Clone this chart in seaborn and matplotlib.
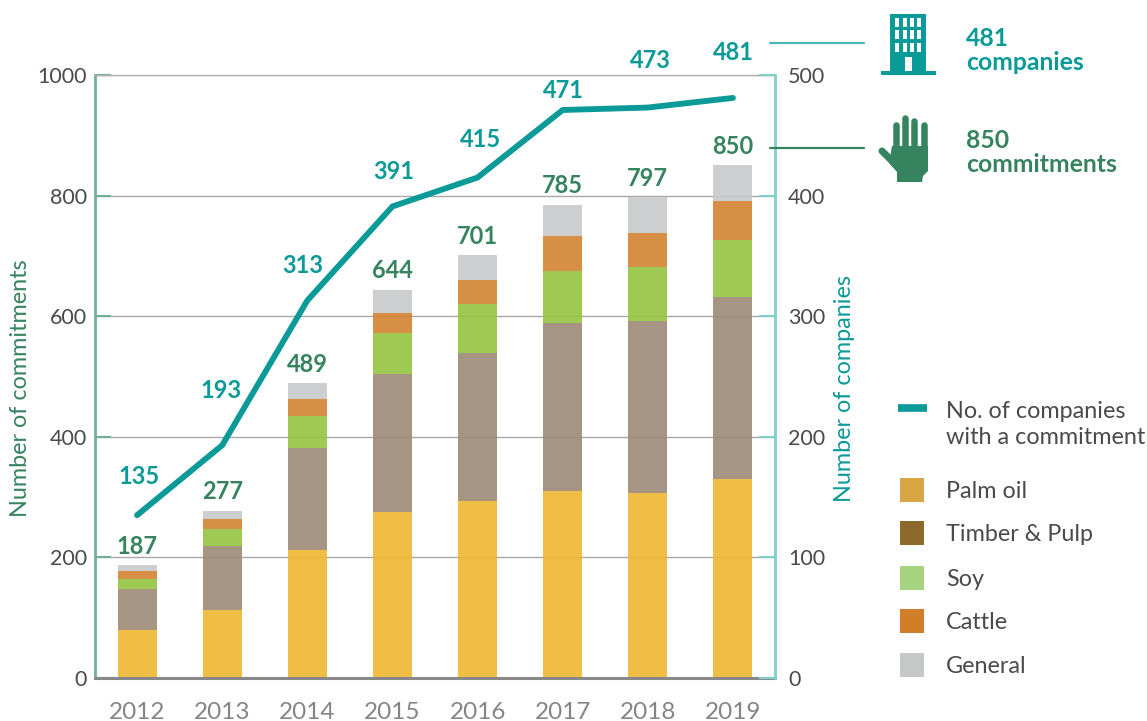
import pandas as pd
import matplotlib
matplotlib.use("Agg")
import matplotlib.pyplot as plt
from matplotlib.patches import Rectangle, Polygon
import seaborn as sns

# ============ Data ============
years = ["2012", "2013", "2014", "2015", "2016", "2017", "2018", "2019"]
palm_oil = [80, 113, 212, 275, 293, 310, 307, 330]
timber_pulp = [68, 106, 169, 229, 246, 279, 285, 302]
soy = [16, 28, 53, 68, 81, 86, 90, 94]
cattle = [13, 16, 29, 33, 40, 58, 56, 65]
general = [10, 14, 26, 39, 41, 52, 59, 59]
commitments = [187, 277, 489, 644, 701, 785, 797, 850]
companies = [135, 193, 313, 391, 415, 471, 473, 481]

series_names = ["Palm oil", "Timber & Pulp", "Soy", "Cattle", "General"]
series_values = [palm_oil, timber_pulp, soy, cattle, general]
bar_colors = ["#EFB72F", "#9C8A76", "#94C440", "#D2832F", "#C8C9CB"]
legend_colors = ["#DAA545", "#8B6A2B", "#A5D37F", "#D27D27", "#C6C7C9"]

TEAL = "#0A9A97"
GREEN = "#36845F"
DARK = "#4A4A4A"

# pixel tweaks for the company labels, they do not sit evenly above the line
company_dx = [2, -1, -5, 1, 3, 1, 3, 0]
company_dy = [39, 55, 35, 35, 38, 19, 47, 45]

sns.set_theme(style="white")
plt.rcParams["font.family"] = ["Lato", "DejaVu Sans"]

W, H = 1147, 721
fig = plt.figure(figsize=(W / 100, H / 100), dpi=100)
ax = fig.add_axes([95 / W, 1 - 678 / H, 680 / W, 603 / H])
PX = 72 / 100  # one pixel in points

# ============ Stacked bars ============
ax.yaxis.grid(True, color="#A8A8A8", lw=1)
ax.set_axisbelow(True)
bottom = [0] * len(years)
for name, values, color in zip(series_names, series_values, bar_colors):
    df = pd.DataFrame({"year": years, "value": values})
    sns.barplot(data=df, x="year", y="value", bottom=bottom, color=color, saturation=1,
                width=0.458, alpha=0.9, linewidth=0, ax=ax)
    bottom = [b + v for b, v in zip(bottom, values)]

ax.set_xlim(-0.494, 7.494)
ax.set_ylim(0, 1000)
ax.set_yticks(range(0, 1001, 200))
ax.set_xlabel("")
ax.set_ylabel("Number of commitments", color=GREEN, fontsize=16.8)
ax.yaxis.set_label_coords(-0.094, 0.48)
ax.tick_params(axis="x", length=0, pad=17, labelsize=17.5, labelcolor="#858585")
ax.tick_params(axis="y", direction="in", length=16 * PX, width=1.5, color="#6FB096",
               pad=6, labelsize=15.5, labelcolor=DARK)
ax.spines["left"].set_color("#6FB096")
ax.spines["left"].set_linewidth(2)
ax.spines["right"].set_visible(False)
ax.spines["top"].set_color("#B0B0B0")
ax.spines["top"].set_linewidth(1)
ax.spines["bottom"].set_color("#888888")
ax.spines["bottom"].set_linewidth(2.2)
ax.spines["bottom"].set_zorder(5)

for i, total in enumerate(commitments):
    ax.annotate(str(total), (i, total), xytext=(0, 19 * PX), textcoords="offset points",
                ha="center", va="center", color=GREEN, fontsize=17, fontweight="bold")

# ============ Companies line, second axis ============
ax2 = ax.twinx()
sns.lineplot(x=years, y=companies, color=TEAL, lw=4.2, ax=ax2, solid_capstyle="round",
             solid_joinstyle="miter", errorbar=None)
ax2.set_xlim(-0.494, 7.494)
ax2.set_ylim(0, 500)
ax2.set_yticks(range(0, 501, 100))
ax2.grid(False)
ax2.set_ylabel("Number of companies", color=TEAL, fontsize=16.8)
ax2.yaxis.set_label_coords(1.087, 0.48)
ax2.tick_params(axis="y", direction="in", length=16 * PX, width=1.5, color="#7FCFCB",
                pad=9.5, labelsize=15.5, labelcolor=DARK)
for side in ["left", "top", "bottom"]:
    ax2.spines[side].set_visible(False)
ax2.spines["right"].set_color("#7FCFCB")
ax2.spines["right"].set_linewidth(2)

for i, total in enumerate(companies):
    ax2.annotate(str(total), (i, total), xytext=(company_dx[i] * PX, company_dy[i] * PX),
                 textcoords="offset points", ha="center", va="center", color=TEAL,
                 fontsize=17, fontweight="bold")

# ============ Overlay in pixels for legend, icons and callouts ============
over = fig.add_axes([0, 0, 1, 1], facecolor="none")
over.set_xlim(0, W)
over.set_ylim(H, 0)
over.axis("off")

over.plot([770, 864], [43, 43], color="#4CB8B5", lw=1.6)
over.plot([770, 864], [148, 148], color=GREEN, lw=1.6)

# building icon
over.add_patch(Rectangle((890, 14), 36, 58, color=TEAL, lw=0))
over.add_patch(Rectangle((881, 71), 55, 4, color=TEAL, lw=0))
for wx in [895, 903, 910, 917]:
    for wy in [18, 30, 43]:
        over.add_patch(Rectangle((wx, wy), 4, 9, color="white", lw=0))
over.add_patch(Rectangle((905, 57), 7, 14, color="white", lw=0))

# hand icon
for fx, ftop in zip([895.7, 905, 914.3, 924], [125, 118, 121, 125]):
    over.plot([fx, fx], [ftop, 150], color=GREEN, lw=6.5 * PX, solid_capstyle="round")
over.plot([882, 897], [151, 166], color=GREEN, lw=7 * PX, solid_capstyle="round")
over.add_patch(Polygon([(892, 146), (928, 146), (928, 171), (923, 176), (922, 182), (897, 182),
                        (897, 172), (889, 163)], color=GREEN, lw=0))

# callout text
bold = dict(fontsize=17.8, fontweight="bold", va="center", ha="left")
over.text(966, 38.5, "481", color=TEAL, **bold)
over.text(966, 62.5, "companies", color=TEAL, **bold)
over.text(966, 141, "850", color=GREEN, **bold)
over.text(966, 165, "commitments", color=GREEN, **bold)

# legend
over.plot([898, 927], [408, 408], color=TEAL, lw=5.5, solid_capstyle="butt")
over.text(946, 412, "No. of companies", color=DARK, fontsize=16.8, va="center")
over.text(946, 438, "with a commitment", color=DARK, fontsize=16.8, va="center")
for name, color, ly in zip(series_names, legend_colors, [490, 533, 578, 621, 665]):
    over.add_patch(Rectangle((900, ly - 12), 24, 24, color=color, lw=0))
    over.text(946, ly + 1.5, name, color=DARK, fontsize=16.8, va="center")

fig.savefig("out.png", dpi=100)
